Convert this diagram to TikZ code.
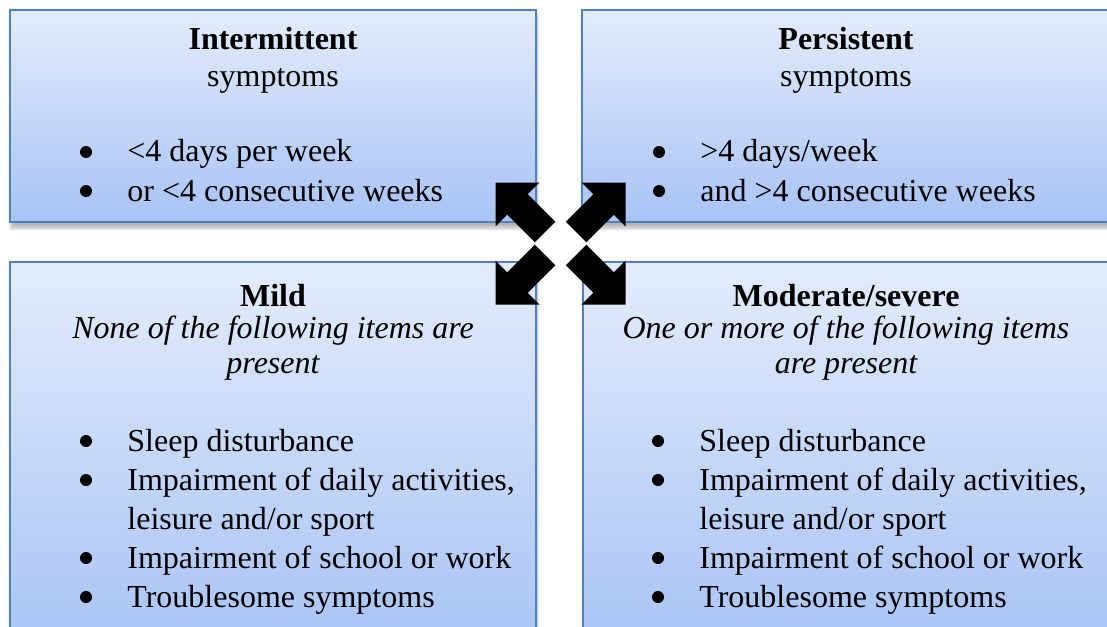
\documentclass[tikz,border=0pt]{standalone}
\usepackage{fontspec}
\setmainfont{Liberation Serif}
\usetikzlibrary{shadows.blur}

\definecolor{boxtop}{HTML}{E3ECFC}
\definecolor{boxbottom}{HTML}{A8C3F5}
\definecolor{boxline}{HTML}{4F81BD}

\newcommand{\bodyfont}{\fontsize{16}{19.5}\selectfont}

\tikzset{
  infobox/.style={top color=boxtop, bottom color=boxbottom, draw=boxline, line width=1.2pt,
    blur shadow={shadow xshift=0.5pt, shadow yshift=-3pt, shadow opacity=30, shadow blur steps=8}},
  heading/.style={anchor=base, inner sep=0pt, font=\bodyfont},
  title/.style={heading, font=\bodyfont\bfseries},
  subline/.style={heading, font=\bodyfont\itshape},
  item/.style={anchor=base west, inner sep=0pt, font=\bodyfont},
  dot/.style={circle, fill=black, inner sep=0pt, minimum size=6pt},
}

% block arrow: inner end, direction
\newcommand{\xarrow}[2]{%
  \fill[black, shift={#1}, rotate=#2] (0,-14.5) -- (39,-14.5) -- (39,-31) -- (70,0)
    -- (39,31) -- (39,14.5) -- (0,14.5) -- cycle;}

\begin{document}
\begin{tikzpicture}[x=0.5pt, y=-0.5pt]
				\useasboundingbox (0,0) rectangle (1107,626);
				\begin{scope}
				\clip (0,0) rectangle (1107,626);
				\path[infobox] (10,10) rectangle (536,222);
				\path[infobox] (582,10) rectangle (1120,222);
				\path[infobox] (10,262) rectangle (536,650);
				\path[infobox] (583,262) rectangle (1120,650);
				\end{scope}

				\node[title] (intTitle) at (273,50) {Intermittent};
				\node[heading] (intSub) at (273,87) {symptoms};
				\node[dot] (intDotA) at (86,152) {};
				\node[item] (intA) at (127,162) {<4 days per week};
				\node[dot] (intDotB) at (86,191) {};
				\node[item] (intB) at (127,201) {or <4 consecutive weeks};

				\node[title] (perTitle) at (846,50) {Persistent};
				\node[heading] (perSub) at (846,87) {symptoms};
				\node[dot] (perDotA) at (659,152) {};
				\node[item] (perA) at (700,162) {>4 days/week};
				\node[dot] (perDotB) at (659,191) {};
				\node[item] (perB) at (700,201) {and >4 consecutive weeks};

				\node[title] (mildTitle) at (273,306) {Mild};
				\node[subline] (mildSubA) at (273,338) {None of the following items are};
				\node[subline] (mildSubB) at (273,373) {present};
				\node[dot] (mildDotA) at (86,441) {};
				\node[item] (mildA) at (127,451) {Sleep disturbance};
				\node[dot] (mildDotB) at (86,480) {};
				\node[item] (mildB) at (127,490) {Impairment of daily activities,};
				\node[item] (mildC) at (127,529) {leisure and/or sport};
				\node[dot] (mildDotD) at (86,558) {};
				\node[item] (mildD) at (127,568) {Impairment of school or work};
				\node[dot] (mildDotE) at (86,597) {};
				\node[item] (mildE) at (127,607) {Troublesome symptoms};

				\node[title] (modTitle) at (846,306) {Moderate/severe};
				\node[subline] (modSubA) at (846,338) {One or more of the following items};
				\node[subline] (modSubB) at (846,373) {are present};
				\node[dot] (modDotA) at (658,441) {};
				\node[item] (modA) at (699,451) {Sleep disturbance};
				\node[dot] (modDotB) at (658,480) {};
				\node[item] (modB) at (699,490) {Impairment of daily activities,};
				\node[item] (modC) at (699,529) {leisure and/or sport};
				\node[dot] (modDotD) at (658,558) {};
				\node[item] (modD) at (699,568) {Impairment of school or work};
				\node[dot] (modDotE) at (658,597) {};
				\node[item] (modE) at (699,607) {Troublesome symptoms};

				% the four arrows
				\xarrow{(545,232)}{135}
				\xarrow{(576,232)}{45}
				\xarrow{(545,255)}{225}
				\xarrow{(576,255)}{315}
\end{tikzpicture}
\end{document}
